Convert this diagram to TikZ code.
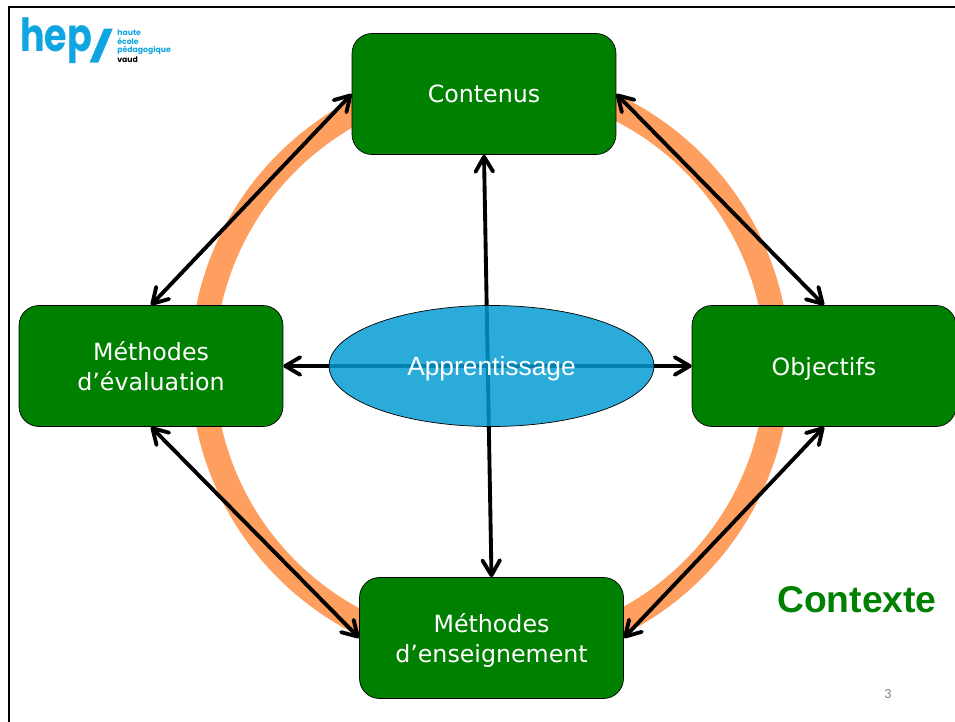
\documentclass[tikz,border=0pt]{standalone}
\usepackage{fontspec}
\setmainfont{DejaVu Sans}
\newfontfamily\arialfont{Liberation Sans}
\newfontfamily\logofont{Poppins}
\newfontfamily\numfont{Carlito}
\usetikzlibrary{positioning, arrows.meta, shapes.geometric}
\definecolor{boxgreen}{HTML}{008000}
\definecolor{ringorange}{HTML}{FF9F5F}
\definecolor{hubblue}{HTML}{009AD2}
\definecolor{hepblue}{HTML}{0FA5E0}

\begin{document}
\begin{tikzpicture}[
    x=0.02cm,
    y=-0.02cm,
    >={Straight Barb[round,length=8.5pt,width=10pt]},
    greenbox/.style={
        rectangle,
        draw,
        fill=boxgreen,
        rounded corners=0.4cm,
        minimum width=5.28cm,
        minimum height=2.42cm,
        align=center,
        text=white,
        font=\fontsize{13.5}{17.5}\selectfont
    },
    hub/.style={
        ellipse,
        draw,
        fill=hubblue,
        fill opacity=0.83,
        text opacity=1,
        minimum width=6.5cm,
        minimum height=2.42cm,
        inner sep=0pt,
        text=white,
        font=\arialfont\fontsize{15}{18}\selectfont
    },
    logosmall/.style={
        anchor=west,
        inner sep=0pt,
        font=\logofont\bfseries\fontsize{4.4}{5}\selectfont
    },
    arrow/.style={<->, line width=2.2pt}
]
\useasboundingbox (0,0) rectangle (955,722);

% Slide frame
\draw[line width=1.4pt] (9,722) -- (9,7) -- (955,7);

% Ring
\coordinate (ringcentre) at (490,366);
\draw[ringorange, line width=14pt] (ringcentre) circle [radius=287.5];

% Boxes
\node[greenbox] (contenus) at (484,94) {Contenus};
\node[greenbox, text depth=0pt] (objectifs) at (824,366) {Objectifs};
\node[greenbox, text depth=-1pt] (evaluation) at (151,366) {Méthodes\\d’évaluation};
\node[greenbox, text depth=0pt] (enseignement) at (491.5,638) {Méthodes\\d’enseignement};

% Arrows
\draw[arrow] (contenus.east) -- (objectifs.north);
\draw[arrow] (contenus.west) -- (evaluation.north);
\draw[arrow] (evaluation.south) -- (enseignement.west);
\draw[arrow] (enseignement.east) -- (objectifs.south);
\draw[arrow] (contenus.south) -- (enseignement.north);
\draw[arrow] (evaluation.east) -- (objectifs.west);

% Centre
\node[hub, text depth=-1.2pt] (apprentissage) at (491.5,366) {Apprentissage};

% Labels
\node[text=boxgreen, font=\arialfont\bfseries\fontsize{21.2}{24}\selectfont] (contexte) at (857,600) {Contexte};
\node[text=gray, font=\numfont\fontsize{8}{10}\selectfont] (pagenum) at (888,694) {3};

% Logo
\node[anchor=base west, inner sep=0pt, text=hepblue, font=\logofont\bfseries\fontsize{26}{26}\selectfont] (hep) at (20,52) {\scalebox{0.8}[1]{hep}};
\node[anchor=base, inner sep=0pt, text=hepblue, font=\logofont\bfseries\fontsize{17}{17}\selectfont] (slash) at (102,58) {\scalebox{1.8}[1]{/}};
\node[logosmall, text=hepblue] (haute) at (117,33) {haute};
\node[logosmall, text=hepblue, below=5pt of haute.west, anchor=west] (ecole) {école};
\node[logosmall, text=hepblue, below=5pt of ecole.west, anchor=west] (pedago) {pédagogique};
\node[logosmall, text=black, below=5pt of pedago.west, anchor=west] (vaud) {vaud};

\end{tikzpicture}
\end{document}
